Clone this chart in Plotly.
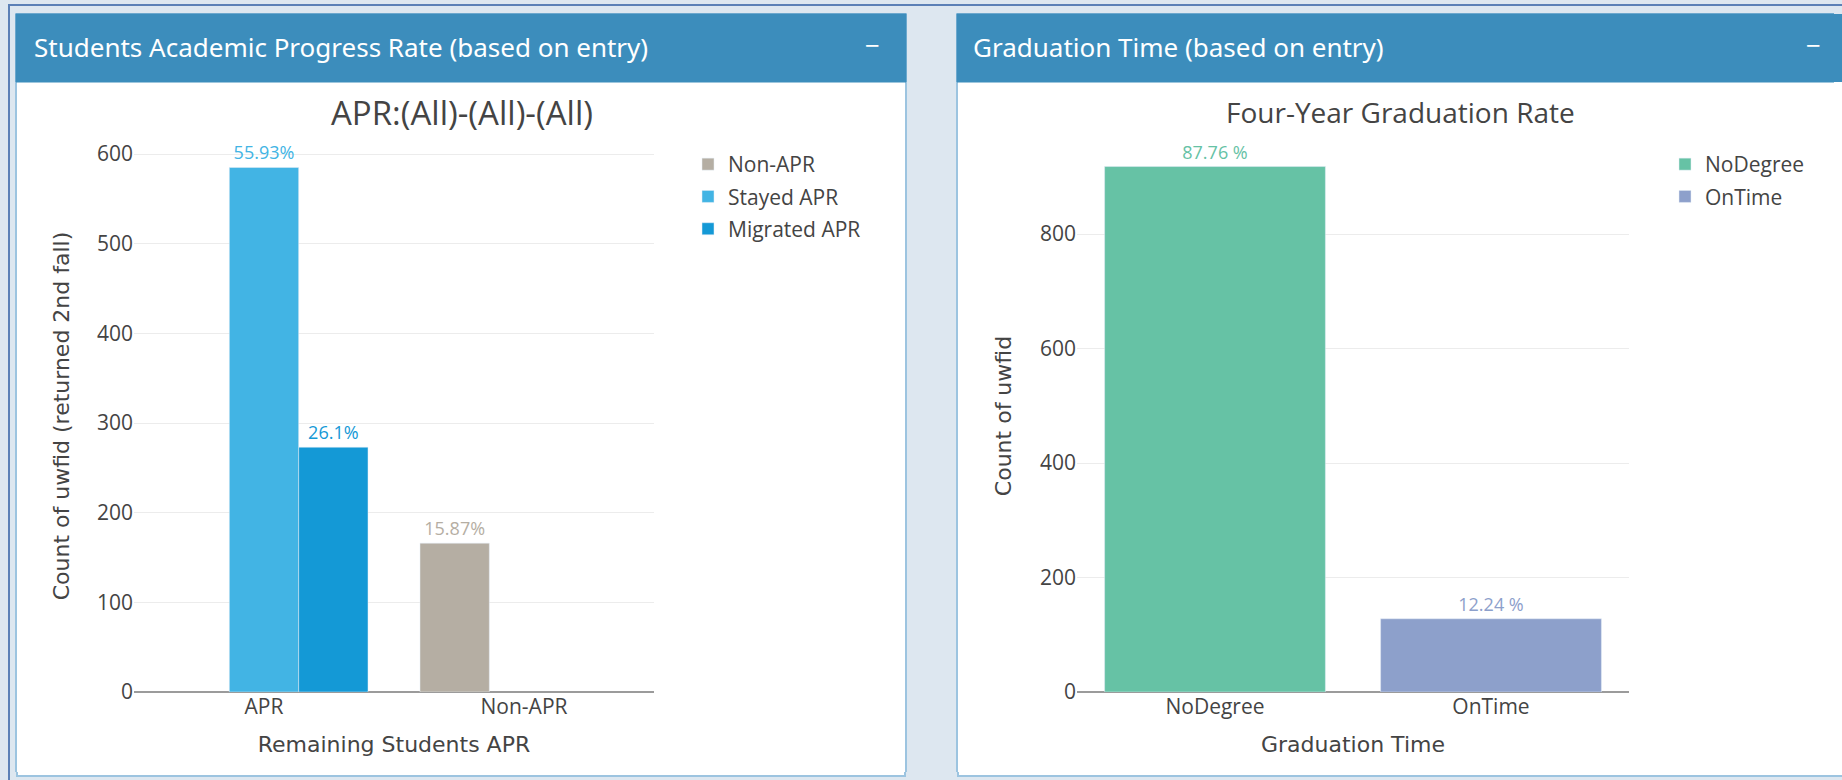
import plotly.graph_objects as go

# page is 1842x780; the browser body keeps its default 8px margin,
# so the figure is 16px smaller and everything is positioned in page pixels
PAGE_W, PAGE_H = 1842, 780
OFF = 8
FW, FH = PAGE_W - 2 * OFF, PAGE_H - 2 * OFF

# ---------------- data ----------------
apr_categories = ["APR", "Non-APR"]
nonapr_x = ["Non-APR"]
nonapr_vals = [166]
nonapr_text = ["15.87%"]
stayed_x = ["APR"]
stayed_vals = [585]
stayed_text = ["55.93%"]
migrated_x = ["APR"]
migrated_vals = [273]
migrated_text = ["26.1%"]

grad_categories = ["NoDegree", "OnTime"]
nodegree_vals = [918]
nodegree_text = ["87.76 %"]
ontime_vals = [128]
ontime_text = ["12.24 %"]

left_yticks = [0, 100, 200, 300, 400, 500, 600]
right_yticks = [0, 200, 400, 600, 800]

# ---------------- colours ----------------
C_NONAPR = "#b5aea3"
C_STAYED = "#42b4e4"
C_MIGR = "#1499d6"
C_NODEG = "#66c2a5"
C_ONTIME = "#8da0cb"
HEADER = "#3c8dbc"
PAGE = "#dde7f0"
BORDER = "#9cc4e0"
FRAME = "#5b80b6"


def px(x):
    return (x - OFF) / FW


def py(y):
    return 1 - (y - OFF) / FH


fig = go.Figure()

lab_font = dict(family="Open Sans, DejaVu Sans, sans-serif", size=18)


def bar(name, x, y, text, color, xa, ya, leg):
    return go.Bar(name=name, x=x, y=y, text=text, textposition="outside",
                  marker_color=color, textfont=dict(color=color, **lab_font),
                  cliponaxis=False, xaxis=xa, yaxis=ya, legend=leg, legendgroup=name)


fig.add_trace(bar("Non-APR", nonapr_x, nonapr_vals, nonapr_text, C_NONAPR, "x", "y", "legend"))
fig.add_trace(bar("Stayed APR", stayed_x, stayed_vals, stayed_text, C_STAYED, "x", "y", "legend"))
fig.add_trace(bar("Migrated APR", migrated_x, migrated_vals, migrated_text, C_MIGR, "x", "y", "legend"))
t = bar("NoDegree", [grad_categories[0]], nodegree_vals, nodegree_text, C_NODEG, "x2", "y2", "legend2")
t.offsetgroup = "g"
fig.add_trace(t)
t = bar("OnTime", [grad_categories[1]], ontime_vals, ontime_text, C_ONTIME, "x2", "y2", "legend2")
t.offsetgroup = "g"
fig.add_trace(t)

# plot areas in page pixels
L_X0, L_X1 = 134, 654
R_X0, R_X1 = 1077, 1629
TOP, BOT = 140, 692
l_scale = (692 - 154) / 600.0
r_scale = (692.2 - 234.3) / 800.0

tick_font = dict(family="Open Sans, DejaVu Sans, sans-serif", size=21, color="#444")
title_font = dict(family="DejaVu Sans, Verdana, sans-serif", size=22, color="#444")

common_y = dict(showgrid=True, gridcolor="#ececec", gridwidth=1, zeroline=True,
                zerolinecolor="#9b9b9b", zerolinewidth=2, showline=False,
                tickfont=tick_font, ticks="", automargin=False)
common_x = dict(showgrid=False, zeroline=False, showline=False, tickfont=tick_font, ticks="",
                automargin=False)

fig.update_layout(
    width=FW, height=FH,
    autosize=False,
    margin=dict(l=0, r=0, t=0, b=0, pad=0, autoexpand=False),
    paper_bgcolor=PAGE,
    plot_bgcolor="rgba(0,0,0,0)",
    barmode="group",
    bargap=0.2,
    font=dict(family="Open Sans, DejaVu Sans, sans-serif", color="#444"),
    xaxis=dict(domain=[px(L_X0), px(L_X1)], anchor="y",
               categoryorder="array", categoryarray=apr_categories,
               title=dict(text="Remaining Students APR", font=title_font, standoff=17), **common_x),
    yaxis=dict(domain=[py(BOT), py(TOP)], anchor="x",
               range=[0, (BOT - TOP) / l_scale], tickvals=left_yticks,
               title=dict(text="Count of uwfid (returned 2nd fall)", font=title_font, standoff=21),
               **common_y),
    xaxis2=dict(domain=[px(R_X0), px(R_X1)], anchor="y2",
                categoryorder="array", categoryarray=grad_categories,
                title=dict(text="Graduation Time", font=title_font, standoff=17), **common_x),
    yaxis2=dict(domain=[py(BOT), py(TOP)], anchor="x2",
                range=[0, (BOT - TOP) / r_scale], tickvals=right_yticks,
                title=dict(text="Count of uwfid", font=title_font, standoff=22), **common_y),
    legend=dict(x=px(688), y=py(144), xanchor="left", yanchor="top", tracegroupgap=2,
                bgcolor="rgba(0,0,0,0)", font=dict(size=21, color="#444")),
    legend2=dict(x=px(1665), y=py(144), xanchor="left", yanchor="top", tracegroupgap=2,
                 bgcolor="rgba(0,0,0,0)", font=dict(size=21, color="#444")),
    showlegend=True,
)

shapes = []
# outer frame left line
shapes.append(dict(type="line", xref="paper", yref="paper", x0=px(9), x1=px(9), y0=py(0), y1=py(800),
                   line=dict(color=FRAME, width=2)))
# panels
for (x0, x1) in [(16, 906), (957, 1880)]:
    shapes.append(dict(type="rect", xref="paper", yref="paper", layer="below",
                       x0=px(x0), x1=px(x1), y0=py(776), y1=py(14),
                       fillcolor="white", line=dict(color=BORDER, width=2)))
    shapes.append(dict(type="rect", xref="paper", yref="paper", layer="below",
                       x0=px(x0), x1=px(x1), y0=py(82), y1=py(14),
                       fillcolor=HEADER, line=dict(color=HEADER, width=1)))
fig.update_layout(shapes=shapes)

hdr_font = dict(family="Liberation Sans Narrow, Noto Sans, sans-serif", size=26, color="white")
ann = [
    dict(text="Students Academic Progress Rate (based on entry)", x=px(32), y=py(47),
         xanchor="left", yanchor="middle", font=hdr_font),
    dict(text="Graduation Time (based on entry)", x=px(971), y=py(47),
         xanchor="left", yanchor="middle", font=hdr_font),
    dict(text="−", x=px(872), y=py(45), xanchor="center", yanchor="middle", font=hdr_font),
    dict(text="−", x=px(1813), y=py(45), xanchor="center", yanchor="middle", font=hdr_font),
    dict(text="APR:(All)-(All)-(All)", x=px(462), y=py(112), xanchor="center", yanchor="middle",
         font=dict(family="Open Sans, sans-serif", size=33, color="#444")),
    dict(text="Four-Year Graduation Rate", x=px(1400), y=py(112), xanchor="center", yanchor="middle",
         font=dict(family="Open Sans, sans-serif", size=28, color="#444")),
]
for a in ann:
    a.update(xref="paper", yref="paper", showarrow=False)
fig.update_layout(annotations=ann)

# page margin area (outside the figure): same dashboard background and panel edges
layers = [
    "linear-gradient(#fff,#fff) 18px 772px / 886px 3px no-repeat fixed",
    "linear-gradient(#fff,#fff) 959px 772px / 900px 3px no-repeat fixed",
    "linear-gradient(#fff,#fff) 1834px 82px / 8px 690px no-repeat fixed",
    "linear-gradient(%s,%s) 1834px 14px / 8px 68px no-repeat fixed" % (HEADER, HEADER),
    "linear-gradient(%s,%s) 16px 772px / 890px 5px no-repeat fixed" % (BORDER, BORDER),
    "linear-gradient(%s,%s) 957px 772px / 900px 5px no-repeat fixed" % (BORDER, BORDER),
    "linear-gradient(%s,%s) 8px 4px / 100%% 2px no-repeat fixed" % (FRAME, FRAME),
    "linear-gradient(%s,%s) 8px 4px / 2px 100%% no-repeat fixed" % (FRAME, FRAME),
    PAGE,
]
post = "document.documentElement.style.background='%s';" % ", ".join(layers)

fig.write_html("out.html", config={"displayModeBar": False, "responsive": False},
               post_script=post)
